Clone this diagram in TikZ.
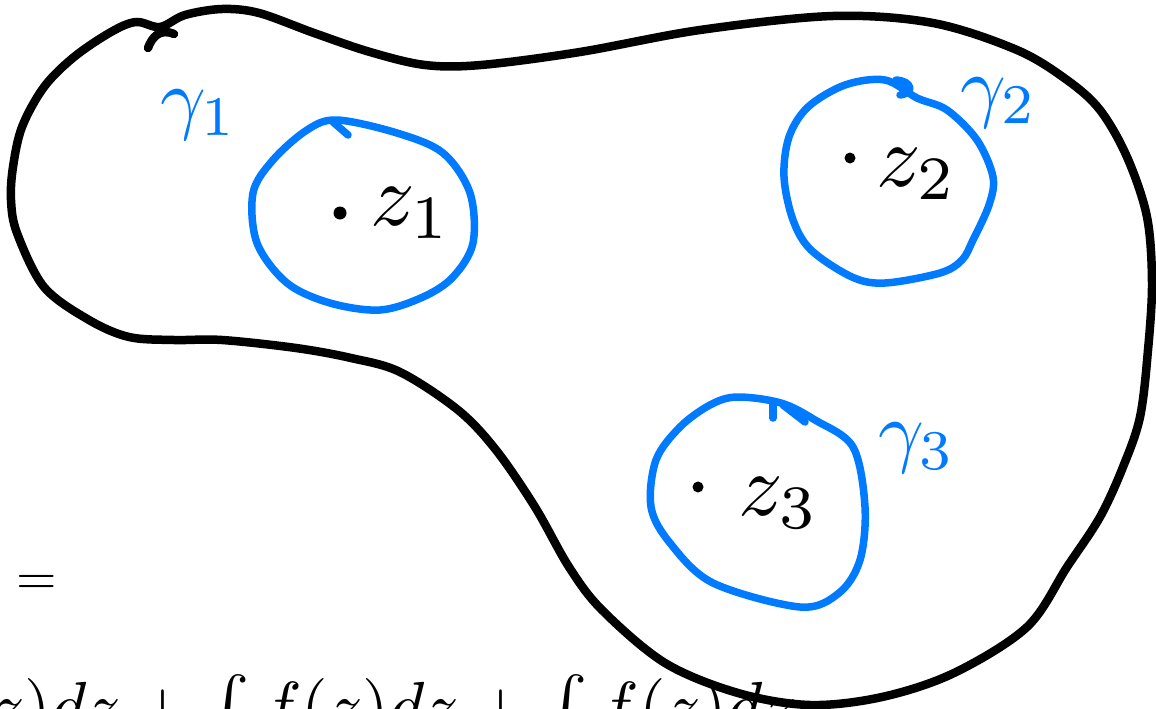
\documentclass[tikz,border=0pt]{standalone}
\usepackage{graphicx}
\definecolor{penblue}{RGB}{0,122,255}
\tikzset{
  outline/.style={line width=8.5pt, black, line cap=round, line join=round},
  loopc/.style={line width=7.5pt, penblue, line cap=round, line join=round},
  ptdot/.style={circle, fill=black, inner sep=0pt, minimum size=13pt},
  lab/.style={inner sep=0pt, anchor=base west},
  glab/.style={inner sep=0pt, anchor=base west, text=penblue},
}
\begin{document}
\begin{tikzpicture}[x=1pt,y=-1pt]
\useasboundingbox (0,0) rectangle (1156,709);

% outer contour
\draw[outline] plot[smooth cycle, tension=0.55] coordinates {
 (160,27) (185,15) (222,9) (259,13) (314,33) (370,52) (425,65) (481,65)
 (580,52) (700,30) (833,16) (933,23) (1017,50) (1067,80) (1100,110)
 (1127,157) (1147,217) (1152,283) (1148,350) (1140,417) (1123,467)
 (1100,517) (1067,567) (1027,627) (954,673) (882,697) (810,705)
 (738,693) (665,663) (602,610) (569,567) (535,507) (496,450) (458,410)
 (400,372) (351,358) (296,348) (222,340) (174,340) (129,337) (89,320)
 (44,287) (17,233) (11,200) (13,167) (22,127) (44,87) (74,57) (111,32) (136,22)};
\coordinate (hookA) at (148,48);
\coordinate (hookB) at (174,34);
\draw[outline] (hookA) .. controls (152,37) and (160,28) .. (hookB);

% gamma 1
\draw[loopc] plot[smooth cycle, tension=0.55] coordinates {
 (337,120) (397,133) (443,153) (470,193) (473,243) (453,277) (423,297)
 (380,310) (330,303) (287,283) (257,243) (253,193) (273,160) (307,130)};
\coordinate (t1a) at (333,122);
\coordinate (t1b) at (348,135);
\draw[loopc] (t1a) -- (t1b);

% gamma 2
\draw[loopc] plot[smooth cycle, tension=0.55] coordinates {
 (885,80) (917,98) (947,110) (977,140) (993,177) (989,205) (973,240)
 (962,260) (940,273) (885,283) (852,277) (811,250) (793,220) (784,177)
 (789,137) (808,107) (845,85)};
\coordinate (h2a) at (896,80);
\coordinate (h2b) at (900,95);
\draw[loopc] (h2a) .. controls (912,81) and (915,93) .. (h2b);

% gamma 3
\draw[loopc] plot[smooth cycle, tension=0.55] coordinates {
 (737,397) (781,403) (815,420) (853,447) (865,507) (860,560) (839,593)
 (800,607) (713,583) (670,543) (651,507) (656,460) (680,427) (710,405)};
\coordinate (t3a) at (773,403);
\coordinate (t3b) at (773,418);
\coordinate (t3c) at (783,405);
\coordinate (t3d) at (805,422);
\draw[loopc] (t3a) -- (t3b);
\draw[loopc] (t3c) -- (t3d);

% points
\node[ptdot] (p1) at (340,213) {};
\node[ptdot, minimum size=11pt] (p2) at (850,158) {};
\node[ptdot, minimum size=11pt] (p3) at (698,487) {};

\node[lab] (z1) at (370,225) {\scalebox{8.8}{$z_1$}};
\node[lab] (z2) at (876,186) {\scalebox{8.8}{$z_2$}};
\node[lab] (z3) at (738,515) {\scalebox{8.8}{$z_3$}};

\node[glab] (g1) at (160,124) {\scalebox{8}{$\gamma_1$}};
\node[glab] (g2) at (960,112) {\scalebox{8}{$\gamma_2$}};
\node[glab] (g3) at (878,457) {\scalebox{8}{$\gamma_3$}};

% cut-off equation
\node[inner sep=0pt, anchor=base east] (eq1) at (57,594) {\scalebox{5.2}{$dz=$}};
\node[inner sep=0pt, anchor=base west] (eq2) at (-77,729) {\scalebox{6.8}{$f(z)dz+\int f(z)dz+\int f(z)dz$}};
\end{tikzpicture}
\end{document}
